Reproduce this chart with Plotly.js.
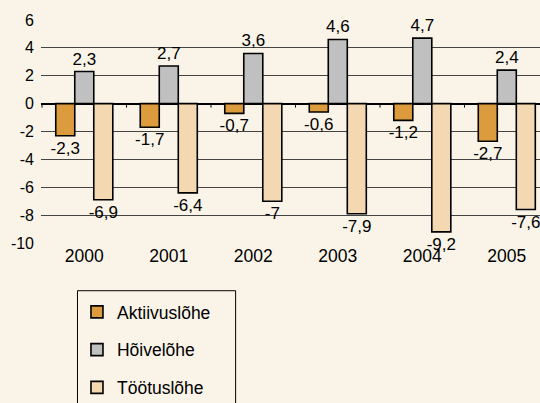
<!DOCTYPE html>
<html><head><meta charset="utf-8">
<script src="https://cdn.plot.ly/plotly-3.0.1.min.js"></script>
<style>html,body{margin:0;padding:0;background:#FAF4E8;}</style>
</head><body><div id="chart" style="width:540px;height:403px;"></div>
<script>
var years = ["2000","2001","2002","2003","2004","2005"];
var aktiivus = [-2.3, -1.7, -0.7, -0.6, -1.2, -2.7];
var hoive = [2.3, 2.7, 3.6, 4.6, 4.7, 2.4];
var tootus = [-6.9, -6.4, -7, -7.9, -9.2, -7.6];
var seriesNames = ["Aktiivuslõhe", "Hõivelõhe", "Töötuslõhe"];
var yTicks = [-10, -8, -6, -4, -2, 0, 2, 4, 6];
var boundaries = [-0.5, 0.5, 1.5, 2.5, 3.5, 4.5, 5.5];

function fmt(v){ return String(v).replace('.', ','); }
var FONT = "Liberation Sans, Arial, sans-serif";
function mk(vals, name, color, grp){
  return {type:'bar', x: years, y: vals, name: name, legendgroup: grp,
    marker:{color: color, line:{color:'#000', width:1.6}},
    text: vals.map(fmt), textposition:'outside', cliponaxis:false, constraintext:'none',
    textfont:{family:FONT, size:17, color:'#000'}, hoverinfo:'skip'};
}
var data = [
  mk(aktiivus, seriesNames[0], '#DC9B3C', 'a'),
  mk(hoive, seriesNames[1], '#C0C0C0', 'b'),
  mk(tootus, seriesNames[2], '#F3D8B2', 'c')
];
var XR = [-0.512, 5.393];
var shapes = boundaries.map(function(b){
  return {type:'line', xref:'x', yref:'y', ysizemode:'pixel', yanchor:0, x0:b, x1:b, y0:0, y1:-4,
    line:{color:'#000', width:1}};
});
// legend frame
shapes.push({type:'rect', xref:'paper', yref:'paper', x0:0.0731, x1:0.390, y0:-0.2076, y1:-0.75,
  line:{color:'#000', width:1}, fillcolor:'rgba(0,0,0,0)'});
var layout = {
  width:540, height:403,
  paper_bgcolor:'#FAF4E8', plot_bgcolor:'#FAF4E8',
  margin:{l:41, r:0, t:19, b:159, autoexpand:false},
  barmode:'group', bargap:0.325, bargroupgap:0,
  font:{family:FONT, size:16, color:'#000'},
  showlegend:true,
  legend:{x:0.0721, y:-0.222, xanchor:'left', yanchor:'top', bgcolor:'rgba(0,0,0,0)',
    borderwidth:0, font:{family:FONT, size:17.5, color:'#000'},
    traceorder:'grouped', tracegroupgap:12},
  shapes: shapes,
  xaxis:{type:'category', range:XR, showgrid:false, zeroline:false, showline:false,
    ticks:'', tickfont:{family:FONT, size:17.5}, ticklabelstandoff:-1, fixedrange:true},
  yaxis:{range:[-10.07, 6.07], tickmode:'array', tickvals:yTicks, ticktext:yTicks.map(String),
    showgrid:true, gridcolor:'#444', gridwidth:1, zeroline:true, zerolinecolor:'#000', zerolinewidth:2,
    showline:false, ticks:'', ticklabelstandoff:6, tickfont:{family:FONT, size:16}, fixedrange:true}
};
Plotly.newPlot('chart', data, layout, {displayModeBar:false, staticPlot:true});
</script></body></html>
